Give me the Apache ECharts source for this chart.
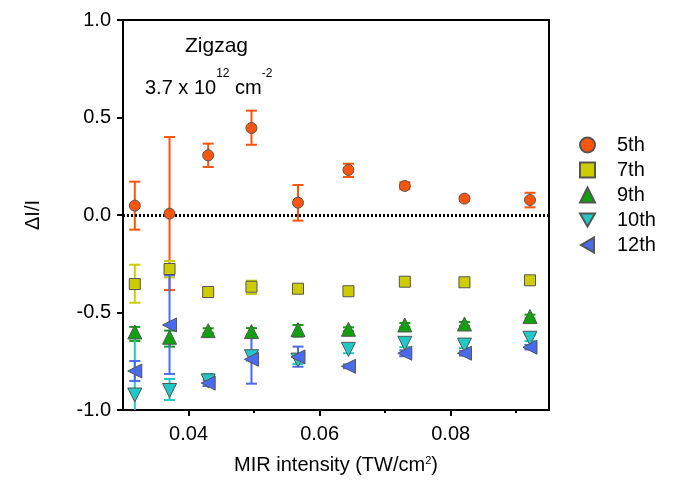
<!DOCTYPE html>
<html><head><meta charset="utf-8">
<script src="https://cdn.jsdelivr.net/npm/echarts@6/dist/echarts.min.js"></script>
<style>html,body{margin:0;padding:0;background:#fff}#c{width:679px;height:481px}</style>
</head><body><div id="c"></div>
<script>
var xVals = [0.0318, 0.0371, 0.0430, 0.0496, 0.0567, 0.0644, 0.0730, 0.0821, 0.0921];
var seriesNames = ['5th', '7th', '9th', '10th', '12th'];
var y5  = [0.048, 0.007, 0.306, 0.446, 0.063, 0.231, 0.149, 0.084, 0.077];
var lo5 = [-0.075, -0.385, 0.246, 0.360, -0.029, 0.195, 0.132, 0.073, 0.039];
var hi5 = [0.171, 0.400, 0.366, 0.535, 0.154, 0.263, 0.168, 0.095, 0.114];
var y7  = [-0.354, -0.277, -0.395, -0.368, -0.378, -0.391, -0.342, -0.345, -0.335];
var lo7 = [-0.450, -0.320, -0.407, -0.405, -0.386, -0.399, -0.350, -0.353, -0.343];
var hi7 = [-0.255, -0.236, -0.383, -0.337, -0.370, -0.383, -0.334, -0.337, -0.327];
var y9  = [-0.600, -0.627, -0.593, -0.598, -0.588, -0.586, -0.564, -0.559, -0.521];
var lo9 = [-0.646, -0.675, -0.605, -0.628, -0.624, -0.596, -0.574, -0.569, -0.531];
var hi9 = [-0.574, -0.593, -0.581, -0.580, -0.564, -0.576, -0.554, -0.549, -0.511];
var y10  = [-0.923, -0.900, -0.851, -0.727, -0.744, -0.689, -0.658, -0.667, -0.632];
var lo10 = [-1.220, -0.949, -0.876, -0.747, -0.764, -0.709, -0.678, -0.682, -0.647];
var hi10 = [-0.626, -0.841, -0.815, -0.707, -0.724, -0.669, -0.629, -0.652, -0.617];
var y12  = [-0.800, -0.564, -0.862, -0.740, -0.728, -0.776, -0.709, -0.709, -0.678];
var lo12 = [-0.851, -0.815, -0.877, -0.865, -0.778, -0.786, -0.724, -0.721, -0.690];
var hi12 = [-0.749, -0.309, -0.847, -0.624, -0.675, -0.766, -0.694, -0.697, -0.666];
var xMajorTicks = [0.04, 0.06, 0.08];
var xMinorTicks = [0.05, 0.07, 0.09];
var yTicks = [-1.0, -0.5, 0.0, 0.5, 1.0];

var colors = ['#FF550A', '#CCCC00', '#10A010', '#20C8C8', '#4A6AF0'];
var symbols = ['circle', 'rect', 'triangle', 'triangle', 'triangle'];
var legendIcons = ['circle', 'rect', 'triangle', 'path://M0,0 L10,0 L5,8.66 Z', 'path://M8.66,0 L8.66,10 L0,5 Z'];
var rotates = [0, 0, 0, 180, 90];
var sizes = [11, 11, 14, 14, 14];
var ys = [y5, y7, y9, y10, y12];
var los = [lo5, lo7, lo9, lo10, lo12];
var his = [hi5, hi7, hi9, hi10, hi12];

var FONT = '"Liberation Sans", Arial, sans-serif';
var series = [];
seriesNames.forEach(function (name, k) {
  series.push({
    type: 'custom', name: name + '_err', z: 2, clip: true, silent: true,
    data: xVals.map(function (x, i) { return [x, los[k][i], his[k][i]]; }),
    renderItem: function (params, api) {
      var p1 = api.coord([api.value(0), api.value(1)]);
      var p2 = api.coord([api.value(0), api.value(2)]);
      var w = 5.5;
      var st = { stroke: colors[k], lineWidth: 2 };
      return { type: 'group', children: [
        { type: 'line', shape: { x1: p1[0], y1: p1[1], x2: p2[0], y2: p2[1] }, style: st },
        { type: 'line', shape: { x1: p1[0] - w, y1: p1[1], x2: p1[0] + w, y2: p1[1] }, style: st },
        { type: 'line', shape: { x1: p2[0] - w, y1: p2[1], x2: p2[0] + w, y2: p2[1] }, style: st }
      ]};
    }
  });
});
seriesNames.forEach(function (name, k) {
  var s = {
    type: 'scatter', name: name, z: 5,
    symbol: symbols[k], symbolSize: sizes[k], symbolRotate: rotates[k],
    itemStyle: { color: colors[k], borderColor: '#555', borderWidth: 1, opacity: 1 },
    data: xVals.map(function (x, i) { return [x, ys[k][i]]; })
  };
  if (k === 0) {
    s.markLine = { silent: true, symbol: 'none', label: { show: false },
      lineStyle: { color: '#000', type: [2, 2], width: 3 },
      data: [{ yAxis: 0 }] };
  }
  series.push(s);
});

var chart = echarts.init(document.getElementById('c'), null, { renderer: 'canvas' });
chart.setOption({
  animation: false,
  backgroundColor: '#fff',
  textStyle: { fontFamily: FONT },
  grid: { left: 123, top: 20, right: 130, bottom: 71, show: true, borderColor: '#000', borderWidth: 2, backgroundColor: 'transparent' },
  legend: {
    orient: 'vertical', left: 574, top: 130, itemGap: 5, itemWidth: 15, itemHeight: 15,
    data: seriesNames.map(function (n, k) { return { name: n, icon: legendIcons[k] }; }),
    textStyle: { fontSize: 20, color: '#000', fontFamily: FONT, padding: [0, 0, 0, 17] }
  },
  xAxis: [{
    type: 'value', min: 0.03, max: 0.095,
    name: 'MIR intensity (TW/cm{s|2})', nameLocation: 'middle', nameGap: 45,
    nameTextStyle: { fontSize: 20, color: '#000', fontFamily: FONT,
      rich: { s: { fontSize: 11, verticalAlign: 'top', color: '#000', fontFamily: FONT } } },
    axisLine: { onZero: false, lineStyle: { color: '#000', width: 2 } },
    axisTick: { inside: false, length: 6, customValues: xMajorTicks, lineStyle: { color: '#000', width: 2 } },
    axisLabel: { fontSize: 20, color: '#000', margin: 14, customValues: xMajorTicks,
      formatter: function (v) { return v.toFixed(2); } },
    splitLine: { show: false }
  }, {
    type: 'value', min: 0.03, max: 0.095, position: 'bottom',
    axisLine: { show: false, onZero: false },
    axisTick: { inside: false, length: 3, customValues: xMinorTicks, lineStyle: { color: '#000', width: 2 } },
    axisLabel: { show: false },
    splitLine: { show: false }
  }],
  yAxis: {
    type: 'value', min: -1, max: 1, interval: 0.5,
    name: 'ΔI/I', nameLocation: 'middle', nameGap: 80,
    nameTextStyle: { fontSize: 20, color: '#000', fontFamily: FONT },
    axisLine: { onZero: false, lineStyle: { color: '#000', width: 2 } },
    axisTick: { inside: false, length: 6, customValues: yTicks, lineStyle: { color: '#000', width: 2 } },
    axisLabel: { fontSize: 20, color: '#000', margin: 12, customValues: yTicks,
      formatter: function (v) { return v.toFixed(1); } },
    splitLine: { show: false }
  },
  graphic: [
    { type: 'text', left: 185, top: 36, style: { text: 'Zigzag', font: '21px ' + FONT, fill: '#000' } },
    { type: 'text', left: 145, top: 68, style: {
      text: '{n|3.7 x 10}{s|12}{n| cm}{s|-2}', font: '20px ' + FONT, fill: '#000',
      rich: { n: { fontSize: 20, fontFamily: FONT, fill: '#000', verticalAlign: 'bottom', lineHeight: 30 },
              s: { fontSize: 12, fontFamily: FONT, fill: '#000', verticalAlign: 'top', lineHeight: 14 } } } }
  ],
  series: series
});
</script></body></html>
